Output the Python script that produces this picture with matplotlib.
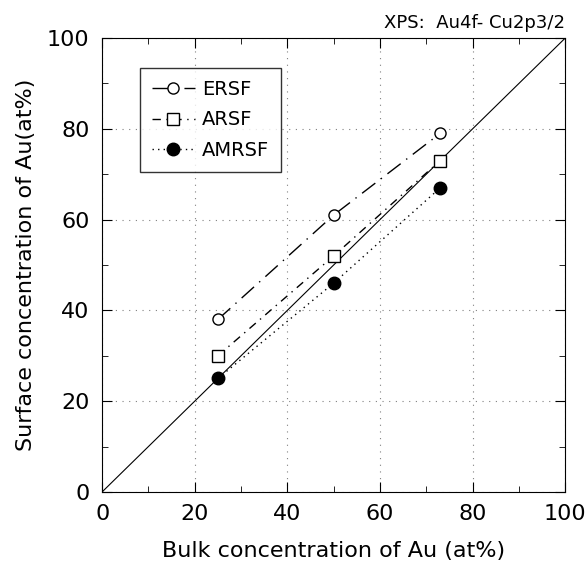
import numpy as np
import matplotlib.pyplot as plt
from matplotlib.ticker import MultipleLocator

plt.rc('font', family='DejaVu Sans', size=16)

bulk = [25, 50, 73]
ersf = [38, 61, 79]
arsf = [30, 52, 73]
amrsf = [25, 46, 67]

fig = plt.figure(figsize=(5.87, 5.76), dpi=100)
ax = fig.add_axes([0.174, 0.146, 0.789, 0.788])

ax.plot([0, 100], [0, 100], color='black', linewidth=0.8)
ax.plot(bulk, ersf, color='black', linewidth=1, linestyle=(0, (12, 5, 1, 5)),
        marker='o', markersize=8, markerfacecolor='white', label='ERSF')
ax.plot(bulk, arsf, color='black', linewidth=1, linestyle=(0, (6, 4, 1, 4)),
        marker='s', markersize=8, markerfacecolor='white', label='ARSF')
ax.plot(bulk, amrsf, color='black', linewidth=1, linestyle=(0, (1, 3)),
        marker='o', markersize=9, markerfacecolor='black', label='AMRSF')

ax.set_xlim(0, 100)
ax.set_ylim(0, 100)
ax.xaxis.set_major_locator(MultipleLocator(20))
ax.yaxis.set_major_locator(MultipleLocator(20))
ax.xaxis.set_minor_locator(MultipleLocator(10))
ax.yaxis.set_minor_locator(MultipleLocator(10))
ax.tick_params(which='both', direction='in', top=True, right=True)
ax.tick_params(which='major', length=7, labelsize=16, pad=9)
ax.tick_params(which='minor', length=4)
ax.grid(which='major', color='gray', linestyle=(0, (1, 5)), linewidth=0.8)

ax.set_xlabel('Bulk concentration of Au (at%)', fontsize=16, labelpad=12)
ax.set_ylabel('Surface concentration of Au(at%)', fontsize=16, labelpad=8)
ax.set_title('XPS:  Au4f- Cu2p3/2', loc='right', fontsize=13, pad=7)

leg = ax.legend(loc='upper left', bbox_to_anchor=(0.082, 0.934), fancybox=False,
                edgecolor='black', fontsize=14, handlelength=2.2, borderpad=0.6,
                labelspacing=0.6, handletextpad=0.4, borderaxespad=0)
leg.get_frame().set_linewidth(1)

fig.savefig('out.png', dpi=100)
